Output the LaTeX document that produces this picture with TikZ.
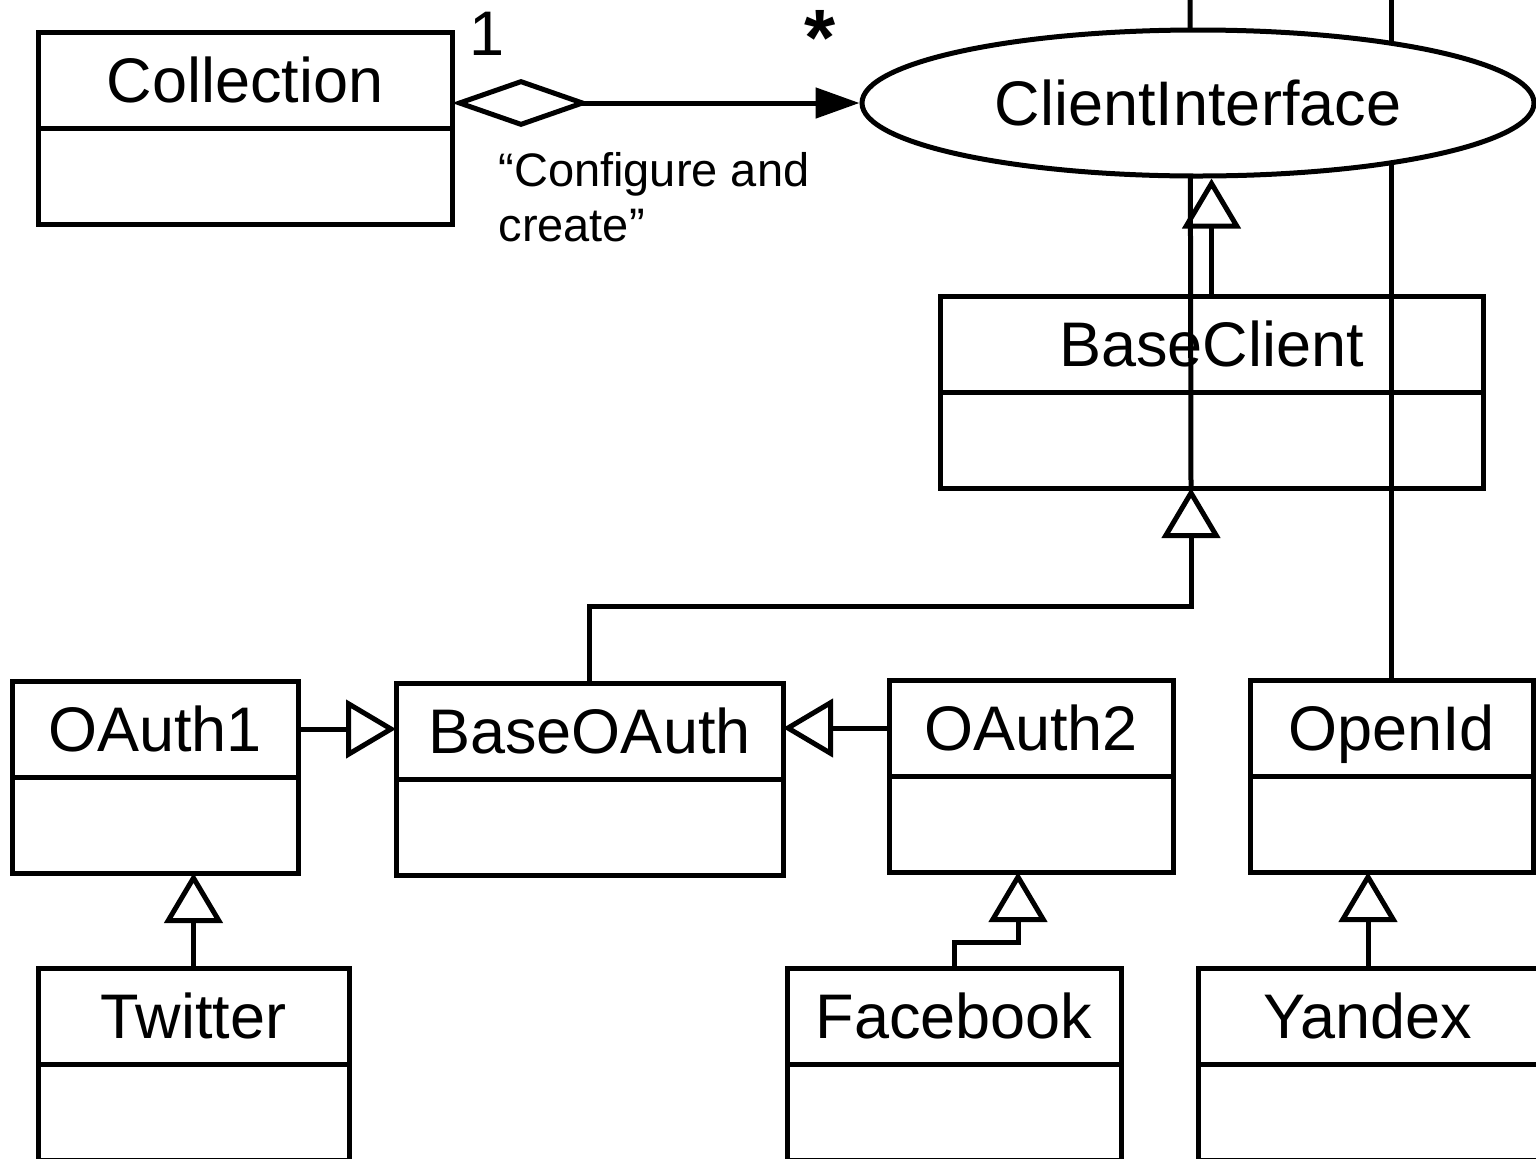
\documentclass[tikz,border=0pt]{standalone}
\usepackage{fontspec}
\setmainfont{Liberation Sans}
\usetikzlibrary{positioning,arrows.meta,shapes.geometric}
\newcommand{\classfont}{\fontsize{31.5pt}{38pt}\selectfont}
\newcommand{\notefont}{\fontsize{23.5pt}{27.5pt}\selectfont}

\begin{document}
\begin{tikzpicture}[x=0.5pt, y=-0.5pt, line width=2.5pt,
    head/.style={draw, outer sep=0pt, inner sep=0pt, anchor=north west,
      minimum height=48pt, text height=22.7pt, text depth=0pt, font=\classfont},
    body/.style={draw, outer sep=0pt, minimum height=48pt},
    gen/.style={-{Triangle[open, length=25pt, width=29pt]}}]
  \useasboundingbox (0,0) rectangle (1536,1158);
  \clip (0,0) rectangle (1536,1158);
  % classes
  \node[head, minimum width=207pt] (Collection) at (38,32) {Collection};
  \node[body, minimum width=207pt, below=0pt of Collection] (CollectionB) {};
  \node[head, minimum width=271.5pt] (BaseClient) at (940,296) {BaseClient};
  \node[body, minimum width=271.5pt, below=0pt of BaseClient] (BaseClientB) {};
  \node[head, minimum width=143pt] (OAuth1) at (12,681) {OAuth1};
  \node[body, minimum width=143pt, below=0pt of OAuth1] (OAuth1B) {};
  \node[head, minimum width=193.5pt] (BaseOAuth) at (396,683) {BaseOAuth};
  \node[body, minimum width=193.5pt, below=0pt of BaseOAuth] (BaseOAuthB) {};
  \node[head, minimum width=142pt] (OAuth2) at (889,680) {OAuth2};
  \node[body, minimum width=142pt, below=0pt of OAuth2] (OAuth2B) {};
  \node[head, minimum width=141.5pt] (OpenId) at (1250,680) {OpenId};
  \node[body, minimum width=141.5pt, below=0pt of OpenId] (OpenIdB) {};
  \node[head, minimum width=155.5pt] (Twitter) at (38,968) {Twitter};
  \node[body, minimum width=155.5pt, below=0pt of Twitter] (TwitterB) {};
  \node[head, minimum width=167pt] (Facebook) at (787,968) {Facebook};
  \node[body, minimum width=167pt, below=0pt of Facebook] (FacebookB) {};
  \node[head, minimum width=170pt] (Yandex) at (1198,968) {Yandex};
  \node[body, minimum width=170pt, below=0pt of Yandex] (YandexB) {};

  % lines coming in from the top edge
  \coordinate (edgeA) at (1190,0);
  \coordinate (edgeB) at (1391.5,0);
  \draw (edgeA) -- ([xshift=-10.25pt]BaseClientB.south);
  \draw (edgeB) -- (OpenId.north);

  % interface
  \node[ellipse, draw, fill=white, minimum width=336pt, minimum height=73pt,
    text height=22.7pt, text depth=0pt, font=\classfont] (ClientInterface)
    at (1198,103) {ClientInterface};

  % aggregation
  \draw[{Diamond[open, length=69pt, width=24pt]}-{Triangle[length=22pt, width=15pt]}]
    (Collection.east |- ClientInterface.west) -- (ClientInterface.west);
  \node[anchor=base, font=\classfont] (one) at (487,55) {1};
  \node[anchor=base, font=\fontsize{40pt}{48pt}\selectfont\bfseries] (many) at (820,65) {*};
  \node[anchor=north west, inner sep=0pt, align=left, font=\notefont] (note)
    at (496,150) {“Configure and\\create”};

  % generalizations
  \draw[gen] (BaseClient.north) -- (BaseClient.north |- ClientInterface.south);
  \draw[gen] (BaseOAuth.north) -- ++(0,-77) -| ([xshift=-10.25pt]BaseClientB.south);
  \draw[gen] (OAuth1.east) -- (OAuth1.east -| BaseOAuth.west);
  \draw[gen] (OAuth2.west) -- (OAuth2.west -| BaseOAuth.east);
  \draw[gen] (Twitter.north) -- (Twitter.north |- OAuth1B.south);
  \draw[gen] (Facebook.north) -- ++(0,-26) -| ([xshift=-6.5pt]OAuth2B.south);
  \draw[gen] (Yandex.north) -- (Yandex.north |- OpenIdB.south);
\end{tikzpicture}
\end{document}
